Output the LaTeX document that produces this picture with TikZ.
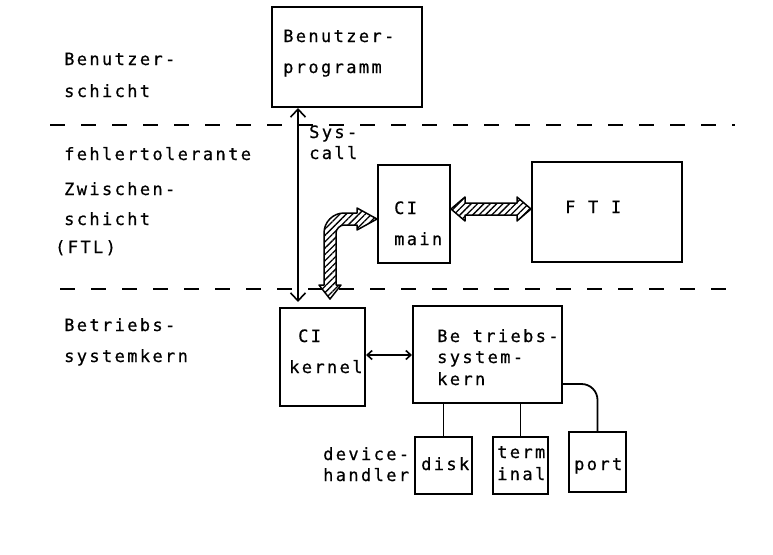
\documentclass[tikz,border=0pt]{standalone}
\usepackage{fontspec}
\newfontfamily\tw[LetterSpace=14,FakeBold=0.6]{DejaVu Sans Mono}
\usetikzlibrary{arrows.meta,patterns.meta,calc}
\tikzset{
  bigbarb/.tip={Straight Barb[length=8pt,width=15pt,line width=1.6pt]},
  smallbarb/.tip={Straight Barb[length=5pt,width=9pt,line width=1.6pt]}}
\begin{document}
\begin{tikzpicture}[x=1pt,y=-1pt,
  box/.style={draw,line width=2pt,inner sep=0pt},
  lbl/.style={font=\tw\fontsize{17}{18}\selectfont,inner sep=0pt,anchor=base west},
  hatch/.style={draw,line width=1.5pt,line join=round,pattern={Lines[angle=45,distance=4.5pt,line width=1.3pt]}},
  layer/.style={line width=2pt,dash pattern=on 15pt off 16pt},
  conn/.style={line width=1.8pt}]
\useasboundingbox (0,0) rectangle (773,554);

% layer separators
\coordinate (d1a) at (50,125); \coordinate (d1b) at (735,125);
\coordinate (d2a) at (60,289); \coordinate (d2b) at (735,289);
\draw[layer] (d1a) -- (d1b);
\draw[layer] (d2a) -- (d2b);

% left labels
\node[lbl] (l1) at (64,65) {Benutzer-};
\node[lbl] (l2) at (64,97) {schicht};
\node[lbl] (l3) at (64,160) {fehlertolerante};
\node[lbl] (l4) at (64,195) {Zwischen-};
\node[lbl] (l5) at (64,225) {schicht};
\node[lbl] (l6) at (55,253) {(FTL)};
\node[lbl] (l7) at (64,331) {Betriebs-};
\node[lbl] (l8) at (64,362) {systemkern};

% boxes
\node[box,minimum width=150pt,minimum height=100pt] (bp) at (347,57) {};
\node[box,minimum width=72pt,minimum height=98pt] (cim) at (414,214) {};
\node[box,minimum width=150pt,minimum height=100pt] (fti) at (607,212) {};
\node[box,minimum width=85pt,minimum height=98pt] (cik) at (322.5,357) {};
\node[box,minimum width=149pt,minimum height=97pt] (bsk) at (487.5,354.5) {};
\node[box,minimum width=57pt,minimum height=57pt] (disk) at (443.5,465.5) {};
\node[box,minimum width=55pt,minimum height=57pt] (term) at (520.5,465.5) {};
\node[box,minimum width=57pt,minimum height=60pt] (port) at (597.5,462) {};

% box texts
\node[lbl] (t1) at (283,42) {Benutzer-};
\node[lbl] (t2) at (283,73) {programm};
\node[lbl] (t3) at (394,214) {CI};
\node[lbl] (t4) at (394,245) {main};
\node[lbl] (t5) at (565,213) {F T I};
\node[lbl] (t6) at (298,342) {CI};
\node[lbl] (t7) at (289,373) {kernel};
\node[lbl] (t8) at (437,342) {Be triebs-};
\node[lbl] (t9) at (437,363) {system-};
\node[lbl] (t10) at (437,385) {kern};
\node[lbl] (t11) at (421,470) {disk};
\node[lbl] (t12) at (497,458) {term};
\node[lbl] (t13) at (497,480) {inal};
\node[lbl] (t14) at (574,470) {port};
\node[lbl] (t15) at (323,460) {device-};
\node[lbl] (t16) at (323,481) {handler};
\node[lbl] (t17) at (309,138) {Sys-};
\node[lbl] (t18) at (309,159) {call};

% syscall arrow
\coordinate (sc) at (298,0);
\draw[conn,{bigbarb}-{bigbarb},shorten >=5pt] (bp.south -| sc) -- (cik.north -| sc);

% CI kernel <-> Betriebssystemkern
\coordinate (kk) at (0,355);
\draw[conn,{smallbarb}-{smallbarb}] (cik.east |- kk) -- (bsk.west |- kk);

% device lines
\draw[conn] (bsk.south -| disk.north) -- (disk.north);
\draw[conn] (bsk.south -| term.north) -- (term.north);
\coordinate (pp) at (0,384);
\draw[conn,rounded corners=16pt] (bsk.east |- pp) -| (port.north);

% hatched double arrow CI main <-> FTI
\coordinate (hy) at (0,209);
\coordinate (hL) at (cim.east |- hy);
\coordinate (hR) at (fti.west |- hy);
\path[hatch] (hL) -- ++(14,-12) -- ++(0,6) -- ($(hR)+(-14,-6)$) -- ++(0,-6) -- (hR)
  -- ++(-14,12) -- ++(0,-6) -- ($(hL)+(14,6)$) -- ++(0,6) -- cycle;

% hatched bent arrow CI main -> CI kernel
\coordinate (by) at (0,219);
\begin{scope}[shift={(cim.west |- by)}]
\path[hatch] (0,0) -- (-20,-11) -- (-20,-6) -- (-33,-6)
  .. controls (-44,-6) and (-53,3) .. (-53,14) -- (-53,66) -- (-58,66) -- (-47,80)
  -- (-36,66) -- (-41,66) -- (-41,14) .. controls (-41,10) and (-37,6) .. (-33,6)
  -- (-20,6) -- (-20,11) -- cycle;
\end{scope}
\end{tikzpicture}
\end{document}
